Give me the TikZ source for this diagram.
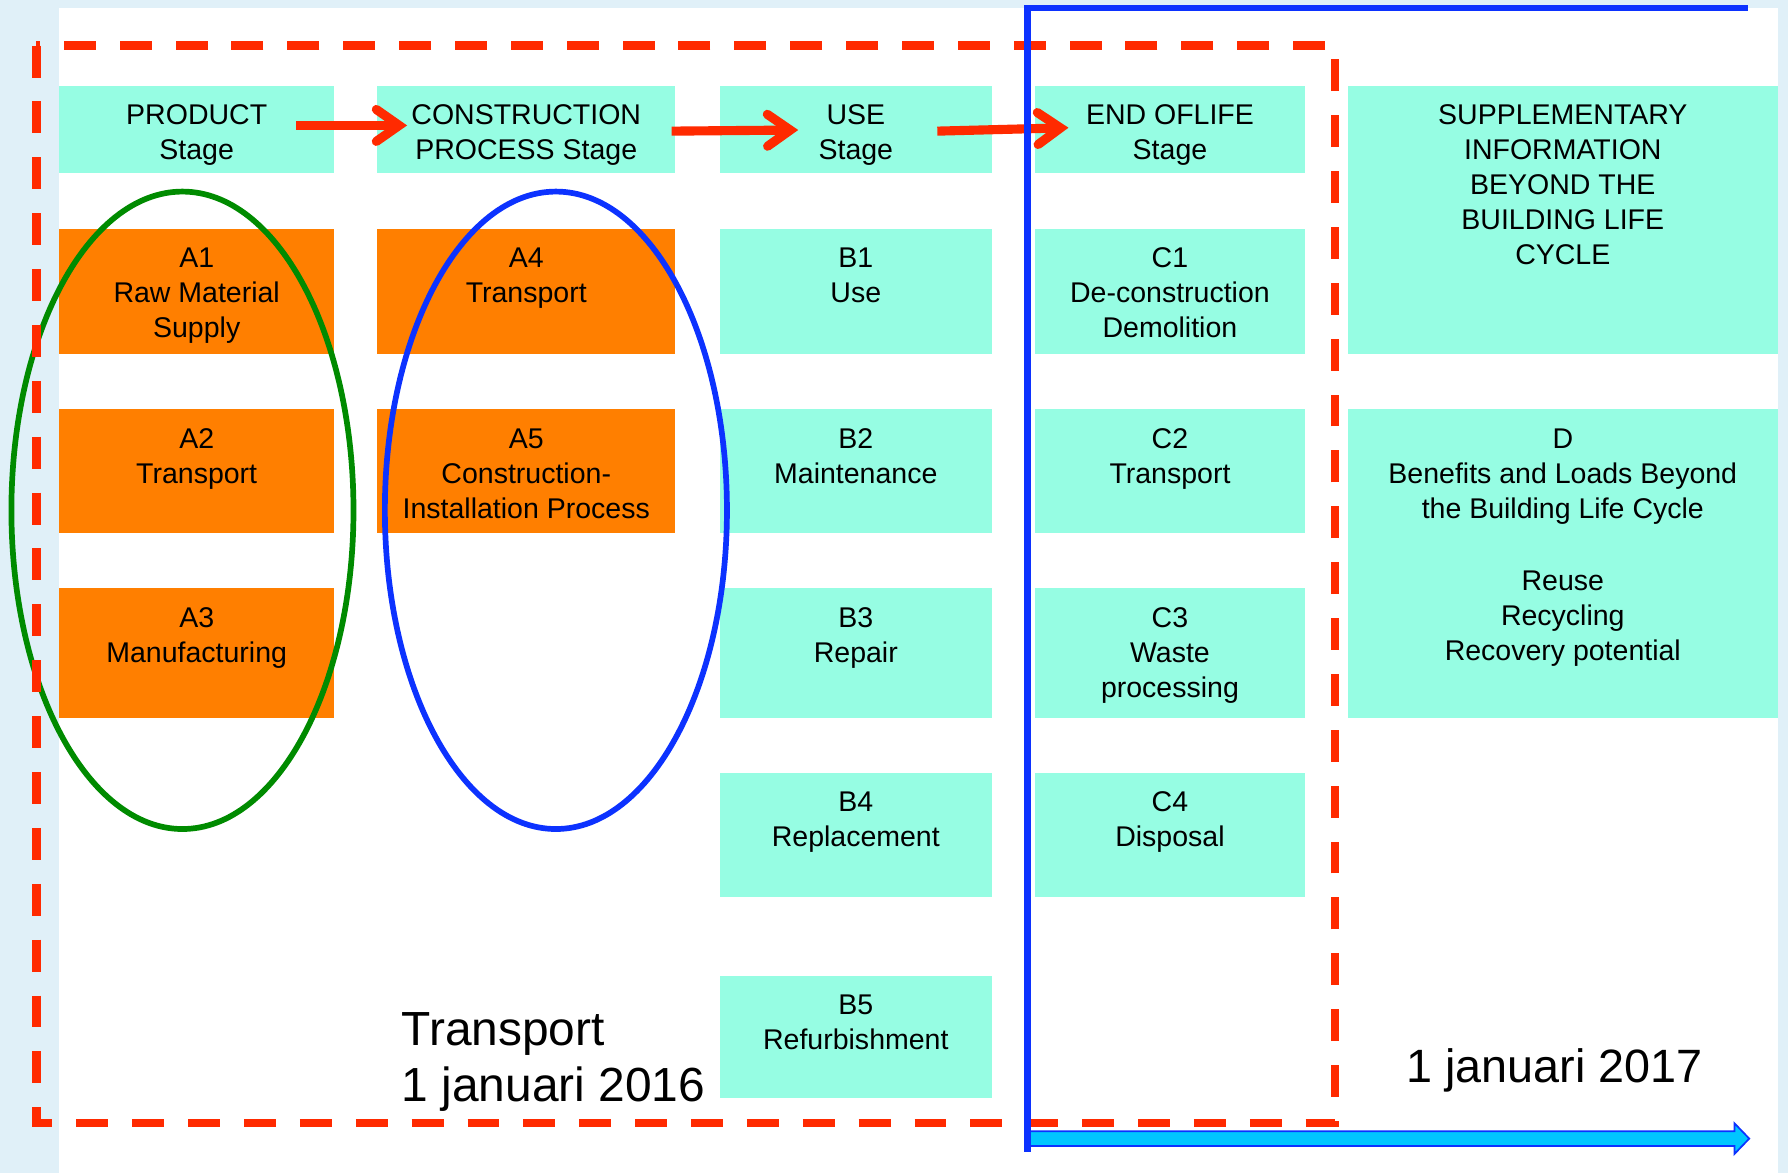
\documentclass[tikz,border=0pt]{standalone}
\usepackage{fontspec}
\setmainfont{Liberation Sans}
\usetikzlibrary{arrows.meta,shapes.geometric,calc}

\definecolor{pagebg}{RGB}{224,240,248}
\definecolor{aquafill}{RGB}{150,253,227}
\definecolor{orangefill}{RGB}{255,127,0}
\definecolor{lcared}{RGB}{255,42,0}
\definecolor{lcagreen}{RGB}{0,139,0}
\definecolor{lcablue}{RGB}{12,50,255}
\definecolor{timecyan}{RGB}{0,198,255}

% top-aligned, centred cell text: width, height, content
\newcommand{\cellbox}[3]{\parbox[c][#2pt][t]{#1pt}{\centering\rule{0pt}{34pt}#3\par}}

\begin{document}
\begin{tikzpicture}[x=1pt,y=-1pt,
  cell/.style={inner sep=0pt,outer sep=0pt,anchor=north west,
    font=\fontsize{25}{30.7}\selectfont},
  aquacell/.style={cell,fill=aquafill},
  orangecell/.style={cell,fill=orangefill},
  flowarrow/.style={draw=lcared,line width=8pt,line cap=butt,
    -{Straight Barb[length=20pt,width=28pt,line cap=round,line join=miter]}},
  group/.style={draw,ellipse,line width=5pt,inner sep=0pt,
    minimum width=300pt,minimum height=559pt},
  scopebox/.style={draw=lcared,line width=7.3pt,dash pattern=on 28pt off 21pt},
  bigtext/.style={inner sep=0pt,anchor=base west,font=\fontsize{42}{50}\selectfont}]

\useasboundingbox (0,0) rectangle (1568,1029);
\fill[pagebg] (0,0) rectangle (1568,1029);
\fill[white] (52,7) rectangle (1559,1029);

% stage headers
\node[aquacell] (prod)  at (52,75)   {\cellbox{241}{77}{PRODUCT\\Stage}};
\node[aquacell] (cons)  at (331,75)  {\cellbox{261}{77}{CONSTRUCTION\\PROCESS Stage}};
\node[aquacell] (usest) at (631,75)  {\cellbox{239}{77}{USE\\Stage}};
\node[aquacell] (eol)   at (908,75)  {\cellbox{236}{77}{END OFLIFE\\Stage}};
\node[aquacell] (supp)  at (1182,75) {\cellbox{377}{235}{SUPPLEMENTARY\\INFORMATION\\BEYOND THE\\BUILDING LIFE\\CYCLE}};

% modules A
\node[orangecell] (a1) at (52,201)  {\cellbox{241}{109}{A1\\Raw Material\\Supply}};
\node[orangecell] (a2) at (52,359)  {\cellbox{241}{108}{A2\\Transport}};
\node[orangecell] (a3) at (52,516)  {\cellbox{241}{114}{A3\\Manufacturing}};
\node[orangecell] (a4) at (331,201) {\cellbox{261}{109}{A4\\Transport}};
\node[orangecell] (a5) at (331,359) {\cellbox{261}{108}{A5\\Construction-\\Installation Process}};

% modules B
\node[aquacell] (b1) at (631,201) {\cellbox{239}{109}{B1\\Use}};
\node[aquacell] (b2) at (631,359) {\cellbox{239}{108}{B2\\Maintenance}};
\node[aquacell] (b3) at (631,516) {\cellbox{239}{114}{B3\\Repair}};
\node[aquacell] (b4) at (631,678) {\cellbox{239}{109}{B4\\Replacement}};
\node[aquacell] (b5) at (631,856) {\cellbox{239}{107}{B5\\Refurbishment}};

% modules C
\node[aquacell] (c1) at (908,201) {\cellbox{236}{109}{C1\\De-construction\\Demolition}};
\node[aquacell] (c2) at (908,359) {\cellbox{236}{108}{C2\\Transport}};
\node[aquacell] (c3) at (908,516) {\cellbox{236}{114}{C3\\Waste\\processing}};
\node[aquacell] (c4) at (908,678) {\cellbox{236}{109}{C4\\Disposal}};

% module D
\node[aquacell] (d) at (1182,359) {\cellbox{377}{271}{D\\Benefits and Loads Beyond\\the Building Life Cycle\\[33pt]Reuse\\Recycling\\Recovery potential}};

% highlighted groups
\node[group,draw=lcagreen] (prodgroup) at (160,447.5) {};
\node[group,draw=lcablue]  (consgroup) at (487.5,447.5) {};

% stage flow
\coordinate (f1s) at ($(prod.north east)+(-33,35)$);
\coordinate (f1e) at ($(cons.north west)+(26,35)$);
\coordinate (f2s) at ($(cons.north east)+(-3,40)$);
\coordinate (f2e) at ($(usest.north west)+(69,39)$);
\coordinate (f3s) at ($(usest.north east)+(-48,40)$);
\coordinate (f3e) at ($(eol.north west)+(29,37)$);
\draw[flowarrow] (f1s) -- (f1e);
\draw[flowarrow] (f2s) -- (f2e);
\draw[flowarrow] (f3s) -- (f3e);

% dashed scope
\draw[scopebox] (32,40) rectangle (1171,985);

% time line
\fill[timecyan,draw=lcablue,line width=1.5pt]
  (901,992) -- (1521,992) -- (1521,985) -- (1534,998.5)
  -- (1521,1012) -- (1521,1005) -- (901,1005) -- cycle;
\draw[lcablue,line width=5.5pt] (901,1010) -- (901,7) -- (1533,7);

% dates
\node[bigtext] (t16a) at (352,916.5) {Transport};
\node[bigtext] (t16b) at (352,966) {1 januari 2016};
\node[bigtext,font=\fontsize{41}{49}\selectfont] (t17) at (1233,949.5) {1 januari 2017};
\end{tikzpicture}
\end{document}
